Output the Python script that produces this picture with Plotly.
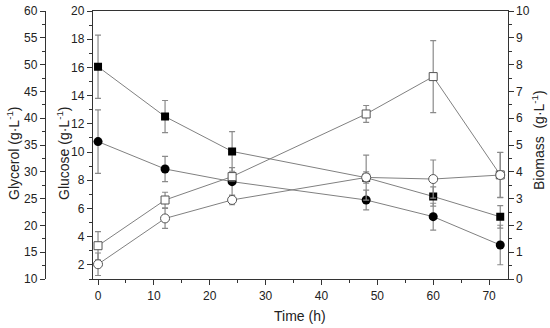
import plotly.graph_objects as go

# ---- data ----
time_h = [0, 12, 24, 48, 60, 72]

glycerol = [49.6, 40.3, 33.8, 28.9, 25.4, 21.6]          # g/L, glycerol axis
glycerol_err = [5.9, 3.0, 3.7, 4.2, 1.8, 2.1]

glucose = [10.74, 8.8, 7.9, 6.6, 5.42, 3.41]              # g/L, glucose axis
glucose_err = [2.25, 0.9, 1.0, 0.7, 0.95, 1.4]

product = [3.36, 6.6, 8.26, 12.7, 15.35, 8.38]            # g/L, glucose axis
product_err = [1.0, 0.55, 0.3, 0.6, 2.55, 1.6]

biomass = [0.55, 2.26, 2.95, 3.79, 3.73, 3.88]            # g/L, biomass axis
biomass_err = [0.42, 0.37, 0.18, 0.21, 0.71, 0.84]

W, H = 550, 328
FONT = "Liberation Sans, Arial, sans-serif"
AX = "#333333"
LINE = "#808080"
ERR = "#8a8a8a"


def err(arr):
    return dict(type="data", array=arr, color=ERR, thickness=1.2, width=3)


fig = go.Figure()
fig.add_trace(go.Scatter(
    x=time_h, y=glycerol, yaxis="y2", name="Glycerol", mode="lines+markers",
    line=dict(color=LINE, width=1),
    marker=dict(symbol="square", size=8, color="black"),
    error_y=err(glycerol_err)))
fig.add_trace(go.Scatter(
    x=time_h, y=glucose, yaxis="y", name="Glucose", mode="lines+markers",
    line=dict(color=LINE, width=1),
    marker=dict(symbol="circle", size=9, color="black"),
    error_y=err(glucose_err)))
fig.add_trace(go.Scatter(
    x=time_h, y=product, yaxis="y", name="Product", mode="lines+markers",
    line=dict(color=LINE, width=1),
    marker=dict(symbol="square", size=8, color="white",
                line=dict(color="#555555", width=1)),
    error_y=err(product_err)))
fig.add_trace(go.Scatter(
    x=time_h, y=biomass, yaxis="y3", name="Biomass", mode="lines+markers",
    line=dict(color=LINE, width=1),
    marker=dict(symbol="circle", size=9, color="white",
                line=dict(color="#555555", width=1)),
    error_y=err(biomass_err)))

x0, x1 = 93 / W, 507.5 / W
y0, y1 = 1 - 279 / H, 1 - 11 / H

common = dict(showgrid=False, zeroline=False, showline=True, linecolor=AX,
              linewidth=1.3, ticks="outside", ticklen=5, tickwidth=1.2,
              tickcolor=AX, tickfont=dict(family=FONT, size=12, color="#222"))

fig.update_layout(
    width=W, height=H,
    margin=dict(l=0, r=0, t=0, b=0),
    paper_bgcolor="white", plot_bgcolor="white",
    showlegend=False,
    xaxis=dict(domain=[x0, x1], range=[-0.9, 73.3], tick0=0, dtick=10,
               mirror=True, automargin=False,
               minor=dict(dtick=5, ticks="outside", ticklen=3, tickcolor=AX),
               **common),
    yaxis=dict(domain=[y0, y1], range=[1, 20], tick0=0, dtick=2,
               anchor="x", side="left", automargin=False,
               minor=dict(dtick=1, ticks="outside", ticklen=3, tickcolor=AX),
               **common),
    yaxis2=dict(overlaying="y", anchor="free", position=45 / W, side="left",
                range=[10, 60], tick0=10, dtick=5, automargin=False,
                minor=dict(dtick=2.5, ticks="outside", ticklen=3, tickcolor=AX),
                **common),
    yaxis3=dict(overlaying="y", anchor="x", side="right",
                range=[0, 10], tick0=0, dtick=1, automargin=False,
                minor=dict(dtick=0.5, ticks="outside", ticklen=3, tickcolor=AX),
                **common),
)

tfont = dict(family=FONT, size=14, color="#222")
fig.add_annotation(text="Glycerol (g·L<sup>-1</sup>)", x=13 / W, y=1 - 153 / H,
                   xref="paper", yref="paper", textangle=-90, showarrow=False,
                   xanchor="center", yanchor="middle", font=tfont)
fig.add_annotation(text="Glucose (g·L<sup>-1</sup>)", x=63 / W, y=1 - 153 / H,
                   xref="paper", yref="paper", textangle=-90, showarrow=False,
                   xanchor="center", yanchor="middle", font=tfont)
fig.add_annotation(text="Biomass  (g·L<sup>-1</sup>)", x=538 / W, y=1 - 140 / H,
                   xref="paper", yref="paper", textangle=-90, showarrow=False,
                   xanchor="center", yanchor="middle", font=tfont)
fig.add_annotation(text="Time (h)", x=300 / W, y=1 - 316 / H,
                   xref="paper", yref="paper", showarrow=False,
                   xanchor="center", yanchor="middle", font=tfont)

fig.write_html("out.html",
               config={"displayModeBar": False},
               post_script="document.body.style.margin='0';"
                           "document.body.style.padding='0';")
